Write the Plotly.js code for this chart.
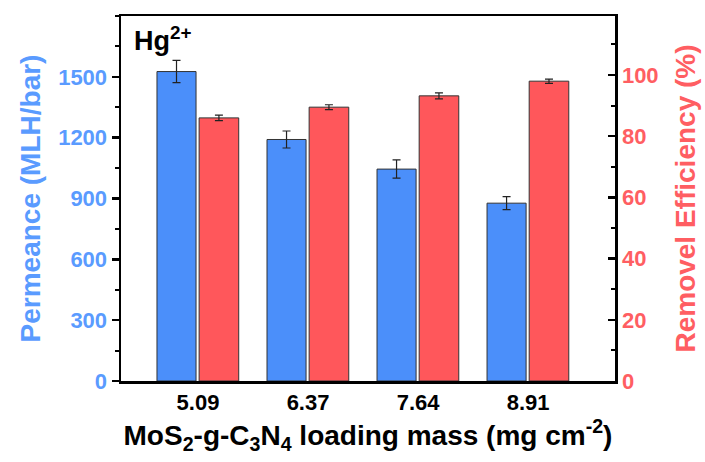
<!DOCTYPE html>
<html>
<head>
<meta charset="utf-8">
<script src="https://cdn.plot.ly/plotly-3.0.1.min.js"></script>
<style>html,body{margin:0;padding:0;background:#fff;}#chart{width:705px;height:462px;}</style>
</head>
<body>
<div id="chart"></div>
<script>
// ---- data ----
const loadings = ["5.09", "6.37", "7.64", "8.91"];
const permeance = [1526, 1191, 1045, 877];
const permeanceErr = [55, 42, 45, 32];
const removal = [86.0, 89.5, 93.2, 98.0];
const removalErr = [0.9, 0.8, 1.0, 0.7];
const tickPerm = [0, 300, 600, 900, 1200, 1500];
const tickRem = [0, 20, 40, 60, 80, 100];

const BLUE = "#4b8ffa", RED = "#ff575b";
const BLUE_T = "#5a9bff", RED_T = "#ff5e62";
const FONT = "Liberation Sans, Arial, sans-serif";

const traces = [
  {
    type: "bar", x: loadings, y: permeance, yaxis: "y", name: "Permeance",
    offset: -0.373, width: 0.355,
    marker: {color: BLUE, line: {color: "#333", width: 1}},
    error_y: {type: "data", array: permeanceErr, visible: true, color: "#222", thickness: 1.2, width: 4}
  },
  {
    type: "bar", x: loadings, y: removal, yaxis: "y2", name: "Removel Efficiency",
    offset: 0.01, width: 0.36,
    marker: {color: RED, line: {color: "#333", width: 1}},
    error_y: {type: "data", array: removalErr, visible: true, color: "#222", thickness: 1.2, width: 4}
  }
];

const layout = {
  width: 705, height: 462,
  margin: {l: 121, r: 90, t: 16, b: 81, pad: 0},
  paper_bgcolor: "#fff", plot_bgcolor: "#fff",
  showlegend: false,
  font: {family: FONT, color: "#000"},
  xaxis: {
    type: "category", range: [-0.7, 3.79],
    showline: true, linecolor: "#000", linewidth: 2.5, mirror: true,
    ticks: "", showgrid: false, zeroline: false,
    tickfont: {family: FONT, size: 22, weight: 700, color: "#000"},
    title: {text: "MoS<sub>2</sub>-g-C<sub>3</sub>N<sub>4</sub> loading mass (mg cm<sup>-2</sup>)",
            font: {family: FONT, size: 28, weight: 700, color: "#000"}, standoff: 8},
    automargin: false
  },
  yaxis: {
    range: [0, 1800], tickvals: tickPerm, ticktext: tickPerm.map(String),
    showline: true, linecolor: "#000", linewidth: 2.5,
    ticks: "outside", ticklen: 7, tickwidth: 2.5, tickcolor: "#000",
    minor: {ticks: "outside", ticklen: 4, tickwidth: 2, tickcolor: "#000", dtick: 150, showgrid: false},
    showgrid: false, zeroline: false,
    tickfont: {family: FONT, size: 22, weight: 700, color: BLUE_T},
    title: {text: "Permeance (MLH/bar)", font: {family: FONT, size: 28, weight: 700, color: BLUE_T}, standoff: 10},
    automargin: false
  },
  yaxis2: {
    overlaying: "y", side: "right",
    range: [0, 119.3], tickvals: tickRem, ticktext: tickRem.map(String),
    showline: true, linecolor: "#000", linewidth: 2.5,
    ticks: "inside", ticklen: 7, tickwidth: 2.5, tickcolor: "#000",
    minor: {ticks: "inside", ticklen: 4, tickwidth: 2, tickcolor: "#000", dtick: 10, showgrid: false},
    showgrid: false, zeroline: false,
    tickfont: {family: FONT, size: 22, weight: 700, color: RED_T},
    title: {text: "Removel Efficiency (%)", font: {family: FONT, size: 28, weight: 700, color: RED_T}, standoff: 18},
    automargin: false
  },
  annotations: [
    {xref: "paper", yref: "paper", x: 0.022, y: 0.99, xanchor: "left", yanchor: "top",
     text: "Hg<sup>2+</sup>", showarrow: false,
     font: {family: FONT, size: 27, weight: 700, color: "#000"}}
  ]
};

Plotly.newPlot("chart", traces, layout, {displayModeBar: false, staticPlot: true});
</script>
</body>
</html>
